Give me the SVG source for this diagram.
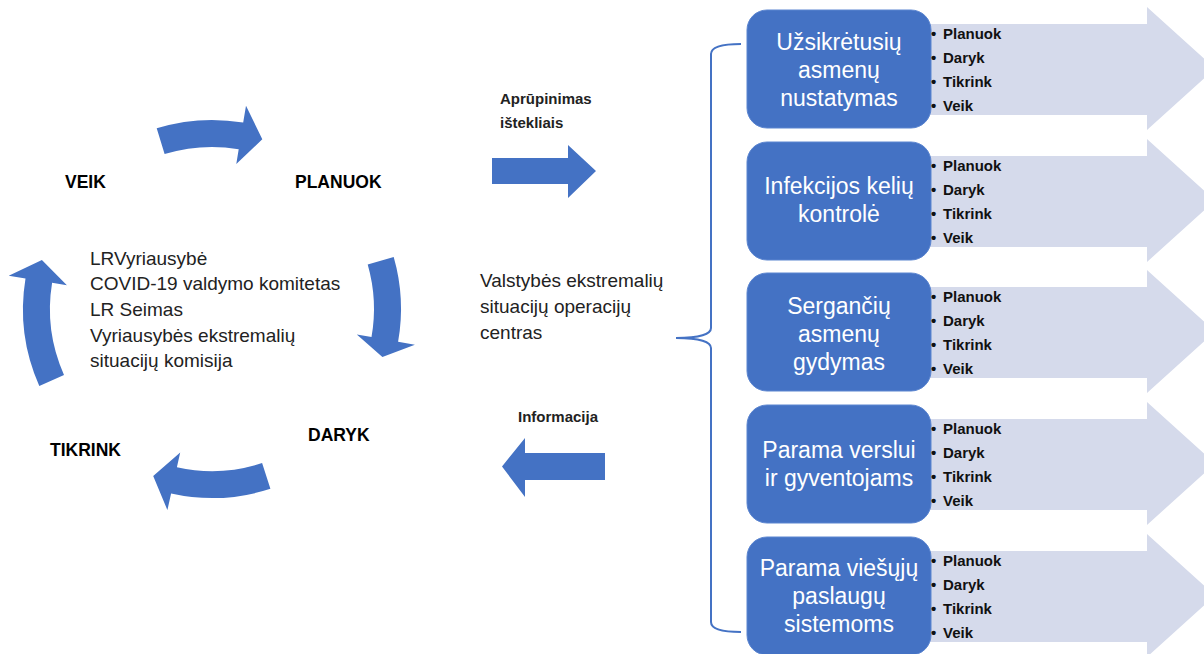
<svg xmlns="http://www.w3.org/2000/svg" width="1204" height="654" viewBox="0 0 1204 654">
<style>
.blue{fill:#4472C4}
.light{fill:#D5DAEB}
.lbl{font-family:"Liberation Sans",Arial,sans-serif;font-weight:bold;font-size:17.5px;fill:#000}
.txt{font-family:"Liberation Sans",Arial,sans-serif;font-size:19px;fill:#222}
.sm{font-family:"Liberation Sans",Arial,sans-serif;font-weight:bold;font-size:15px;fill:#222}
.box{fill:#4472C4;stroke:#5B85D0;stroke-width:1}
.bt{font-family:"Liberation Sans",Arial,sans-serif;font-size:23px;fill:#fff;text-anchor:middle}
.bl{font-family:"Liberation Sans",Arial,sans-serif;font-weight:bold;font-size:15px;fill:#111}
</style>
<rect width="1204" height="654" fill="#fff"/>

<g id="connectors">
  <path class="blue" d="M156.7,128.3 A189,189 0 0 1 243.2,122.6 L246,105.8 L262.3,139.3 L236.3,164 L238.7,149.2 A162,162 0 0 0 164.6,154.1 Z"/>
  <path class="blue" d="M393.7,256.9 A189,189 0 0 1 398.1,341.8 L414.9,344.8 L382.4,356.9 L356.8,334.5 L371.5,337.1 A162,162 0 0 0 367.7,264.4 Z"/>
  <path class="blue" d="M270.4,488.8 A189,189 0 0 1 171.1,493.5 L167.4,510.1 L153.2,476 L180.2,452.5 L176.9,467.2 A162,162 0 0 0 262.1,463.1 Z"/>
  <path class="blue" d="M39.3,385.9 A189,189 0 0 1 25.5,278.5 L8.7,275.7 L41.9,259.9 L66.9,285.2 L52.1,282.8 A162,162 0 0 0 64,374.9 Z"/>
  <path class="blue" d="M492,158 L568,158 L568,145 L596,171 L568,198 L568,184 L492,184 Z"/>
  <path class="blue" d="M605,453 L525,453 L525,438 L502,466.5 L525,497 L525,480 L605,480 Z"/>
  <path d="M741,44 C724,44 711,46 711,54 L711,328 C711,334 700,338 676,338 C700,338 711,342 711,348 L711,622 C711,630 724,632 741,632" fill="none" stroke="#4472C4" stroke-width="2"/>
</g>

<g id="cycle-labels">
  <text class="lbl" x="65" y="188">VEIK</text>
  <text class="lbl" x="295" y="188">PLANUOK</text>
  <text class="lbl" x="308" y="441">DARYK</text>
  <text class="lbl" x="50" y="456">TIKRINK</text>
</g>

<g id="center-text" class="txt">
  <text class="txt" x="90" y="265">LRVyriausybė</text>
  <text class="txt" x="90" y="290">COVID-19 valdymo komitetas</text>
  <text class="txt" x="90" y="316">LR Seimas</text>
  <text class="txt" x="90" y="342">Vyriausybės ekstremalių</text>
  <text class="txt" x="90" y="367">situacijų komisija</text>
</g>

<g id="labels-mid">
  <text class="sm" x="500" y="104">Aprūpinimas</text>
  <text class="sm" x="500" y="128">ištekliais</text>
  <text class="sm" x="518" y="422">Informacija</text>
</g>

<g id="vesoc">
  <text class="txt" x="480" y="287">Valstybės ekstremalių</text>
  <text class="txt" x="480" y="313">situacijų operacijų</text>
  <text class="txt" x="480" y="339">centras</text>
</g>

<g id="node1">
  <path class="light" d="M920,24 L1147,24 L1147,7 L1215,68.5 L1147,130 L1147,115 L920,115 Z"/>
  <rect class="box" x="747" y="10" width="184" height="118" rx="20"/>
  <text class="bt" x="839" y="50">Užsikrėtusių</text>
  <text class="bt" x="839" y="78">asmenų</text>
  <text class="bt" x="839" y="106">nustatymas</text>
  <text class="bl" y="39"><tspan x="931">•</tspan><tspan x="943">Planuok</tspan></text>
  <text class="bl" y="63"><tspan x="931">•</tspan><tspan x="943">Daryk</tspan></text>
  <text class="bl" y="87"><tspan x="931">•</tspan><tspan x="943">Tikrink</tspan></text>
  <text class="bl" y="111"><tspan x="931">•</tspan><tspan x="943">Veik</tspan></text>
</g>

<g id="node2">
  <path class="light" d="M920,156 L1147,156 L1147,139 L1215,200.5 L1147,262 L1147,247 L920,247 Z"/>
  <rect class="box" x="747" y="142" width="184" height="118" rx="20"/>
  <text class="bt" x="839" y="194">Infekcijos kelių</text>
  <text class="bt" x="839" y="222">kontrolė</text>
  <text class="bl" y="171"><tspan x="931">•</tspan><tspan x="943">Planuok</tspan></text>
  <text class="bl" y="195"><tspan x="931">•</tspan><tspan x="943">Daryk</tspan></text>
  <text class="bl" y="219"><tspan x="931">•</tspan><tspan x="943">Tikrink</tspan></text>
  <text class="bl" y="243"><tspan x="931">•</tspan><tspan x="943">Veik</tspan></text>
</g>

<g id="node3">
  <path class="light" d="M920,287 L1147,287 L1147,270 L1215,331.5 L1147,393 L1147,378 L920,378 Z"/>
  <rect class="box" x="747" y="273" width="184" height="118" rx="20"/>
  <text class="bt" x="839" y="314">Sergančių</text>
  <text class="bt" x="839" y="342">asmenų</text>
  <text class="bt" x="839" y="370">gydymas</text>
  <text class="bl" y="302"><tspan x="931">•</tspan><tspan x="943">Planuok</tspan></text>
  <text class="bl" y="326"><tspan x="931">•</tspan><tspan x="943">Daryk</tspan></text>
  <text class="bl" y="350"><tspan x="931">•</tspan><tspan x="943">Tikrink</tspan></text>
  <text class="bl" y="374"><tspan x="931">•</tspan><tspan x="943">Veik</tspan></text>
</g>

<g id="node4">
  <path class="light" d="M920,419 L1147,419 L1147,402 L1215,463.5 L1147,525 L1147,510 L920,510 Z"/>
  <rect class="box" x="747" y="405" width="184" height="118" rx="20"/>
  <text class="bt" x="839" y="458">Parama verslui</text>
  <text class="bt" x="839" y="486">ir gyventojams</text>
  <text class="bl" y="434"><tspan x="931">•</tspan><tspan x="943">Planuok</tspan></text>
  <text class="bl" y="458"><tspan x="931">•</tspan><tspan x="943">Daryk</tspan></text>
  <text class="bl" y="482"><tspan x="931">•</tspan><tspan x="943">Tikrink</tspan></text>
  <text class="bl" y="506"><tspan x="931">•</tspan><tspan x="943">Veik</tspan></text>
</g>

<g id="node5">
  <path class="light" d="M920,551 L1147,551 L1147,534 L1215,595.5 L1147,657 L1147,642 L920,642 Z"/>
  <rect class="box" x="747" y="537" width="184" height="118" rx="20"/>
  <text class="bt" x="839" y="576">Parama viešųjų</text>
  <text class="bt" x="839" y="604">paslaugų</text>
  <text class="bt" x="839" y="632">sistemoms</text>
  <text class="bl" y="566"><tspan x="931">•</tspan><tspan x="943">Planuok</tspan></text>
  <text class="bl" y="590"><tspan x="931">•</tspan><tspan x="943">Daryk</tspan></text>
  <text class="bl" y="614"><tspan x="931">•</tspan><tspan x="943">Tikrink</tspan></text>
  <text class="bl" y="638"><tspan x="931">•</tspan><tspan x="943">Veik</tspan></text>
</g>
</svg>
